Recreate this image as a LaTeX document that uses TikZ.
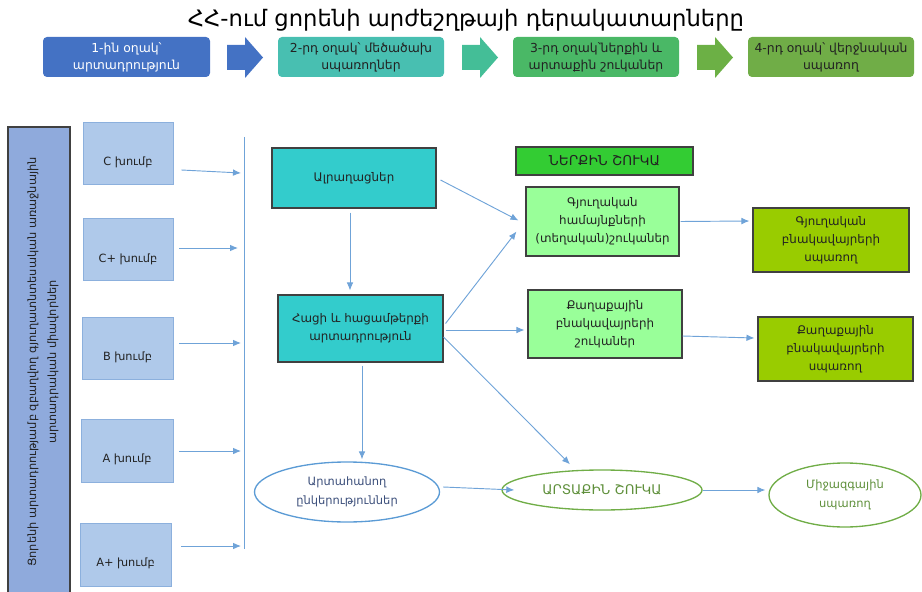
\documentclass[tikz,border=0pt]{standalone}
\usepackage{fontspec}
\setmainfont{DejaVu Sans}
\usetikzlibrary{shapes.geometric,arrows.meta,calc}
\definecolor{cone}{HTML}{4472C4}
\definecolor{ctwo}{HTML}{48BFB1}
\definecolor{atwo}{HTML}{44BE97}
\definecolor{cthree}{HTML}{4AB866}
\definecolor{athree}{HTML}{6CB045}
\definecolor{cfour}{HTML}{70AD47}
\definecolor{barfill}{HTML}{8FAADC}
\definecolor{grpfill}{HTML}{AFC9EA}
\definecolor{grpline}{HTML}{8CB0DD}
\definecolor{turq}{HTML}{33CCCC}
\definecolor{brgreen}{HTML}{33CC33}
\definecolor{ltgreen}{HTML}{99FF99}
\definecolor{ygreen}{HTML}{99CC00}
\definecolor{darkline}{HTML}{404040}
\definecolor{flowc}{HTML}{6FA3D8}
\definecolor{expline}{HTML}{5B9BD5}
\definecolor{exptext}{HTML}{3B4E7A}
\definecolor{grntext}{HTML}{5E8F3A}
\definecolor{txt}{HTML}{222222}
\begin{document}
\begin{tikzpicture}[x=0.75pt,y=-0.75pt,
  sz/.style 2 args={minimum width=#1*0.75pt, minimum height=#2*0.75pt, inner sep=0pt},
  chev/.style={rounded corners=3pt, align=center, text=txt, font=\fontsize{9.3}{12.5}\selectfont},
  grp/.style={draw=grpline, fill=grpfill, line width=0.6pt},
  glab/.style={font=\fontsize{8.5}{10}\selectfont, text=txt},
  tbox/.style={draw=darkline, line width=0.8pt, align=center, text=txt, font=\fontsize{8.9}{13.5}\selectfont},
  ell/.style={ellipse, line width=1pt, align=center, font=\fontsize{8.6}{14}\selectfont},
  flow/.style={draw=flowc, line width=0.7pt, -{Latex[length=6pt,width=5pt]}}]
\useasboundingbox (0,0) rectangle (922,592);

% title
\node[font=\fontsize{17}{20}\selectfont] (title) at (466,20) {ՀՀ-ում ցորենի արժեշղթայի դերակատարները};

% chain row
\node[chev, sz={167}{40}, fill=cone, text=white] (b1) at (126.5,57) {1-ին օղակ՝\\արտադրություն};
\node[chev, sz={166}{40}, fill=ctwo] (b2) at (361,57) {2-րդ օղակ՝ մեծածախ\\սպառողներ};
\node[chev, sz={166}{40}, fill=cthree] (b3) at (596,57) {3-րդ օղակ՝ներքին և\\արտաքին շուկաներ};
\node[chev, sz={166}{40}, fill=cfour] (b4) at (831,57) {4-րդ օղակ՝ վերջնական\\սպառող};
\fill[cone] (227,45) -- (245,45) -- (245,37) -- (263,57.5) -- (245,78) -- (245,70) -- (227,70) -- cycle;
\fill[atwo] (462,45) -- (480,45) -- (480,37) -- (498,57.5) -- (480,78) -- (480,70) -- (462,70) -- cycle;
\fill[athree] (697,45) -- (715,45) -- (715,37) -- (733,57.5) -- (715,78) -- (715,70) -- (697,70) -- cycle;

% left bar
\node[draw=darkline, fill=barfill, line width=0.8pt, sz={62}{468}] (bar) at (39,361) {};
\node[rotate=90, align=center, text=txt, font=\fontsize{8.5}{15}\selectfont] (bartext) at (43,362)
  {Ցորենի արտադրությամբ զբաղվող գյուղատնտեսական առաջնային\\արտադրական միավորներ};

% groups
\node[grp, sz={90}{62}, label={[glab, yshift=-7pt]center:C խումբ}] (gC) at (128,153) {};
\node[grp, sz={90}{62}, label={[glab, yshift=-8pt]center:C+ խումբ}] (gCp) at (128,249) {};
\node[grp, sz={91}{62}, label={[glab, yshift=-7pt]center:B խումբ}] (gB) at (127.5,348) {};
\node[grp, sz={92}{63}, label={[glab, yshift=-7pt]center:A խումբ}] (gA) at (127,450.5) {};
\node[grp, sz={91}{63}, label={[glab, yshift=-7pt]center:A+ խումբ}] (gAp) at (125.5,554.5) {};

% collector line
\coordinate (vtop) at (244,137);
\coordinate (vbot) at (244,549);
\draw[flowc, line width=0.7pt] (vtop) -- (vbot);
\coordinate (vC) at (241,173);
\coordinate (vCp) at (238,248);
\coordinate (vB) at (241,343);
\coordinate (vA) at (241,451);
\coordinate (vAp) at (241,546);
\draw[flow] ($(gC.east)+(8,17)$) -- (vC);
\draw[flow] ($(gCp.east)+(6,-1)$) -- (vCp);
\draw[flow] ($(gB.east)+(6,-5)$) -- (vB);
\draw[flow] ($(gA.east)+(6,0.5)$) -- (vA);
\draw[flow] ($(gAp.east)+(10,-8.5)$) -- (vAp);

% processing
\node[tbox, sz={164}{60}, fill=turq] (alr) at (354,178) {Ալրաղացներ};
\node[tbox, sz={165}{67}, fill=turq] (hac) at (360.5,328.5) {Հացի և հացամթերքի\\արտադրություն};

% domestic market
\node[tbox, sz={177}{28}, fill=brgreen, font=\fontsize{10.2}{12}\selectfont] (ner) at (604.5,161) {ՆԵՐՔԻՆ ՇՈՒԿԱ};
\node[tbox, sz={153}{69}, fill=ltgreen] (gyu) at (602.5,221.5) {Գյուղական\\համայնքների\\(տեղական)շուկաներ};
\node[tbox, sz={154}{68}, fill=ltgreen] (qax) at (605,324) {Քաղաքային\\բնակավայրերի\\շուկաներ};
\node[tbox, sz={156}{64}, fill=ygreen] (cgy) at (831,240) {Գյուղական\\բնակավայրերի\\սպառող};
\node[tbox, sz={155}{64}, fill=ygreen] (cqa) at (835.5,349) {Քաղաքային\\բնակավայրերի\\սպառող};

% external
\node[ell, draw=expline, text=exptext, sz={185}{60}] (exp) at (347,492) {Արտահանող\\ընկերություններ};
\node[ell, draw=cfour, text=grntext, sz={200}{40}, font=\fontsize{10}{12}\selectfont] (art) at (602,490) {ԱՐՏԱՔԻՆ ՇՈՒԿԱ};
\node[ell, draw=cfour, text=grntext, sz={152}{64}] (mij) at (845,495) {Միջազգային\\սպառող};

% flows
\draw[flow] ($(alr.south)+(-4,4)$) -- ($(hac.north)+(-10.5,-4)$);
\draw[flow] ($(hac.south)+(1.5,3)$) -- ($(hac.south |- exp.north)+(1.5,-2)$);
\draw[flow] ($(alr.east)+(4,2)$) -- ($(gyu.west)+(-7,-1)$);
\draw[flow] ($(hac.east)+(2,-5)$) -- ($(gyu.west)+(-9,10)$);
\draw[flow] ($(hac.east)+(2,1.5)$) -- ($(qax.west)+(-3,6)$);
\draw[flow] ($(hac.east)+(0,8.5)$) -- ($(art.north)+(-32,-5)$);
\draw[flow] ($(gyu.east)+(1,0)$) -- ($(cgy.west)+(-3,-19)$);
\draw[flow] ($(qax.east)+(0,12)$) -- ($(cqa.west)+(-3,-11)$);
\draw[flow] ($(exp.east)+(3,-5)$) -- ($(art.west)+(13,0)$);
\draw[flow] (art.east) -- ($(mij.west)+(-3,-5)$);
\end{tikzpicture}
\end{document}
